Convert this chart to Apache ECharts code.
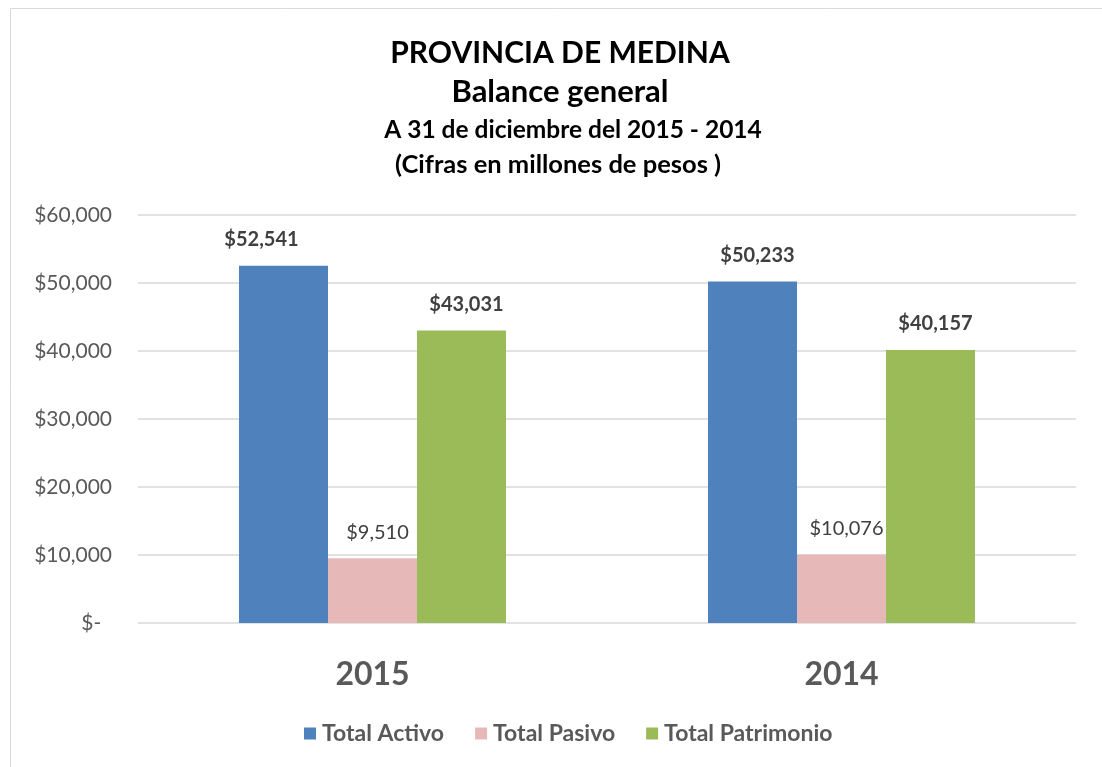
<!DOCTYPE html>
<html>
<head>
<meta charset="utf-8">
<script src="https://cdn.jsdelivr.net/npm/echarts@6/dist/echarts.min.js"></script>
<style>
    html, body { margin: 0; padding: 0; background: #fff; }
    #chart { width: 1102px; height: 767px; }
</style>
</head>
<body>
<div id="chart"></div>
<script>
    // categories and values
    var years = ['2015', '2014']
    var totalActivo = [52541, 50233]
    var totalPasivo = [9510, 10076]
    var totalPatrimonio = [43031, 40157]
    var titleLines = ['PROVINCIA DE MEDINA', 'Balance general', 'A 31 de diciembre del 2015 - 2014', '(Cifras en millones de pesos )']

    var font = 'Lato'
    var grey = '#595959'

    function money(v) {
        if (v === 0) return '$-  '
        return '$' + v.toLocaleString('en-US')
    }

    var chart = echarts.init(document.getElementById('chart'))

    // excel nudged the first label a bit to the left
    function barSeries(name, values, color, bold, firstOffset) {
        return {
            name: name,
            type: 'bar',
            data: values.map(function (v, i) {
                var item = { value: v }
                if (i === 0 && firstOffset) item.label = { offset: firstOffset }
                return item
            }),
            barWidth: 89,
            barGap: '0%',
            itemStyle: { color: color },
            label: {
                show: true,
                position: 'top',
                distance: 16,
                offset: [5, 0],
                color: '#404040',
                fontFamily: font,
                fontSize: 20,
                fontWeight: bold ? 'bold' : 'normal',
                formatter: function (p) { return money(p.value) }
            },
            animation: false
        }
    }

    // title lines as plain text so each one can sit where the original has it
    function titleLine(text, x, y, size) {
        return {
            type: 'text',
            x: x,
            y: y,
            silent: true,
            style: {
                text: text,
                fill: '#000',
                fontFamily: font,
                fontSize: size,
                fontWeight: 'bold',
                align: 'center',
                verticalAlign: 'middle'
            }
        }
    }

    chart.setOption({
        graphic: [
            {
                type: 'rect',
                shape: { x: 10.5, y: 8.5, width: 1200, height: 900 },
                style: { fill: 'none', stroke: '#d9d9d9', lineWidth: 1 },
                silent: true
            },
            titleLine(titleLines[0], 560, 53, 30),
            titleLine(titleLines[1], 560, 92, 31),
            titleLine(titleLines[2], 573, 130, 24.5),
            titleLine(titleLines[3], 558, 165, 25.5)
        ],
        grid: { left: 138, right: 26, top: 215, bottom: 144 },
        legend: {
            data: ['Total Activo', 'Total Pasivo', 'Total Patrimonio'],
            bottom: 17,
            left: 299,
            icon: 'rect',
            itemWidth: 12,
            itemHeight: 12,
            itemGap: 31,
            textStyle: { fontFamily: font, fontSize: 23, fontWeight: 'bold', color: grey, padding: [0, 0, 0, 1] }
        },
        xAxis: {
            type: 'category',
            data: years,
            axisLine: { show: false },
            axisTick: { show: false },
            axisLabel: { fontFamily: font, fontSize: 32, fontWeight: 'bold', color: grey, margin: 36 }
        },
        yAxis: {
            type: 'value',
            min: 0,
            max: 60000,
            interval: 10000,
            axisLine: { show: false },
            axisTick: { show: false },
            splitLine: { lineStyle: { color: '#d9d9d9', width: 1.5 } },
            axisLabel: { fontFamily: font, fontSize: 21, color: grey, margin: 26, formatter: money }
        },
        series: [
            barSeries('Total Activo', totalActivo, '#4f81bd', true, [-22, 0]),
            barSeries('Total Pasivo', totalPasivo, '#e6b9b8', false),
            barSeries('Total Patrimonio', totalPatrimonio, '#9bbb59', true)
        ]
    })
</script>
</body>
</html>
